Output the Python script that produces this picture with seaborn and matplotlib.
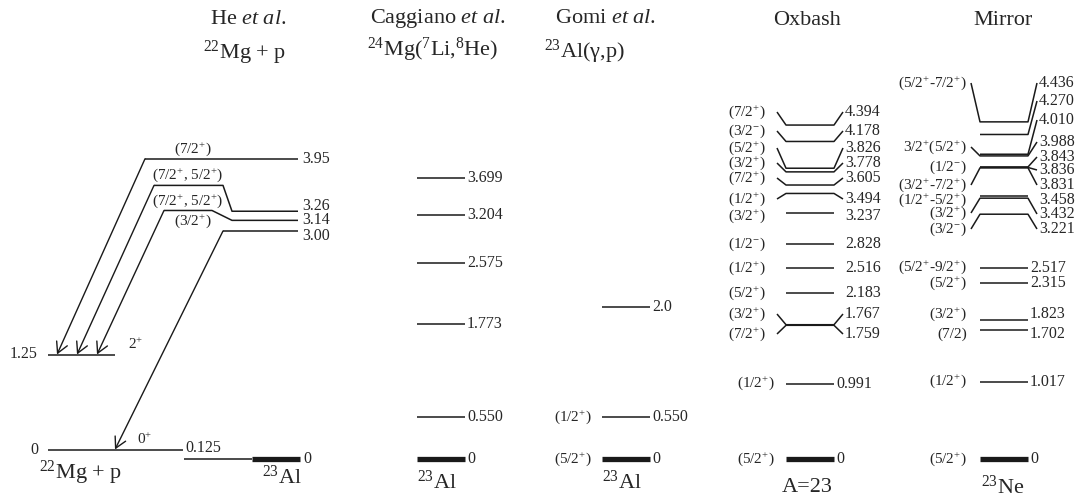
import pandas as pd
import matplotlib.pyplot as plt
import seaborn as sns

sns.set_theme(style="white")
plt.rcParams['font.family'] = ['Liberation Serif', 'DejaVu Serif']
plt.rcParams['mathtext.fontset'] = 'custom'
plt.rcParams['mathtext.rm'] = 'Liberation Serif'
plt.rcParams['mathtext.it'] = 'Liberation Serif:italic'
plt.rcParams['lines.solid_capstyle'] = 'butt'

P = '$^{+}$'
M = '$^{-}$'

# He et al., 22Mg + p
he_e = [3.95, 3.26, 3.14, 3.00]
he_val = ['3.95', '3.26', '3.14', '3.00']
he_jp = ['(7/2' + P + ')', '(7/2' + P + ', 5/2' + P + ')', '(7/2' + P + ', 5/2' + P + ')', '(3/2' + P + ')']
mg_e = [0.0, 1.25]          # 22Mg levels above the p threshold
mg_val = ['0', '1.25']
mg_jp = ['0' + P, '2' + P]
s_p = 0.125                 # proton threshold in 23Al

# Caggiano et al.
cag_e = [3.699, 3.204, 2.575, 1.773, 0.550, 0.0]
cag_val = ['3.699', '3.204', '2.575', '1.773', '0.550', '0']

# Gomi et al.
gomi_e = [2.0, 0.550, 0.0]
gomi_val = ['2.0', '0.550', '0']
gomi_jp = ['', '(1/2' + P + ')', '(5/2' + P + ')']

# Oxbash (A=23)
ox_e = [4.394, 4.178, 3.826, 3.778, 3.605, 3.494, 3.237, 2.828, 2.516, 2.183, 1.767, 1.759, 0.991, 0.0]
ox_val = ['4.394', '4.178', '3.826', '3.778', '3.605', '3.494', '3.237', '2.828', '2.516', '2.183',
          '1.767', '1.759', '0.991', '0']
ox_jp = ['(7/2' + P + ')', '(3/2' + M + ')', '(5/2' + P + ')', '(3/2' + P + ')', '(7/2' + P + ')',
         '(1/2' + P + ')', '(3/2' + P + ')', '(1/2' + M + ')', '(1/2' + P + ')', '(5/2' + P + ')',
         '(3/2' + P + ')', '(7/2' + P + ')', '(1/2' + P + ')', '(5/2' + P + ')']

# Mirror, 23Ne
mir_e = [4.436, 4.270, 4.010, 3.988, 3.843, 3.836, 3.831, 3.458, 3.432, 3.221, 2.517, 2.315, 1.823, 1.702, 1.017, 0.0]
mir_val = ['4.436', '4.270', '4.010', '3.988', '3.843', '3.836', '3.831', '3.458', '3.432', '3.221',
           '2.517', '2.315', '1.823', '1.702', '1.017', '0']
mir_jp = ['(5/2' + P + '-7/2' + P + ')', '', '', '3/2' + P + '(5/2' + P + ')', '', '(1/2' + M + ')',
          '(3/2' + P + '-7/2' + P + ')', '(1/2' + P + '-5/2' + P + ')', '(3/2' + P + ')', '(3/2' + M + ')',
          '(5/2' + P + '-9/2' + P + ')', '(5/2' + P + ')', '(3/2' + P + ')', '(7/2)', '(1/2' + P + ')',
          '(5/2' + P + ')']


def py(row):
    # picture row -> MeV, only used to place text and spread labels
    return (459 - row) / 76


def spread(rs):
    return [py(r) if r else None for r in rs]


# where crowded labels are pushed to (layout)
ox_lab = spread([112, 131, 148, 163, 178, 199, 0, 0, 0, 0, 314, 334, 0, 0])
ox_t = spread([0, 0, 0, 0, 0, 0, 216, 0, 0, 0, 0, 0, 0, 0])
mir_r = spread([83, 101, 120, 142, 157, 170, 185, 0, 214, 229, 0, 0, 0, 0, 0, 0])
mir_l = spread([83, 0, 0, 147, 0, 0, 185, 0, 213, 229, 0, 0, 0, 0, 0, 0])
mir_t = spread([0, 0, 0, 0, 0, 0, 0, 200, 0, 0, 0, 0, 314, 334, 0, 0])
he_up = [3.95, 3.60, 3.27, 3.00]
he_lab = [3.95, py(206), 3.14, py(236)]

rows = []


def poly(xs, es, w='thin'):
    k = len(set(r['seg'] for r in rows))
    for x, e in zip(xs, es):
        rows.append({'seg': k, 'x': x, 'E': e, 'w': w})


fig = plt.figure(figsize=(10.81, 4.99), dpi=100)
ax = fig.add_axes([0, 0, 1, 1])
FS = 11.5
JS = 11


def levels(x0, x1, es, vals, jps, lab_r, lab_l, rx, lx, far, txt=None, dx=9):
    txt = txt or [None] * len(es)
    for i, e in enumerate(es):
        xs, ys = [x0, x1], [e, e]
        if lab_l[i] is not None:
            xs.insert(0, x0 - dx)
            ys.insert(0, lab_l[i])
        if lab_r[i] is not None:
            xs.append(x1 + dx)
            ys.append(lab_r[i])
        poly(xs, ys, 'thick' if e == 0 else 'thin')
        big = e > far or lab_r[i] is not None or lab_l[i] is not None
        et = e if txt[i] is None else txt[i]
        er = et if lab_r[i] is None else lab_r[i]
        el = et if lab_l[i] is None else lab_l[i]
        if vals[i]:
            ax.text(rx[0] if big else rx[1], er, vals[i], ha='left', va='center', fontsize=FS)
        if jps and jps[i]:
            ax.text(lx[0] if big else lx[1], el, jps[i], ha='right', va='center', fontsize=JS)


none = [None] * 20
levels(417, 465, cag_e, cag_val, None, none, none, (467, 467), (0, 0), 99)
levels(602, 650, gomi_e, gomi_val, gomi_jp, none, none, (652, 652), (592, 592), 99)
levels(786, 834, ox_e, ox_val, ox_jp, ox_lab, ox_lab, (845, 836), (766, 775), 2.0, ox_t)
levels(980, 1028, mir_e, mir_val, mir_jp, mir_r, mir_l, (1039, 1030), (967, 967), 3.0, mir_t)

# He et al. column: 23Al levels with gamma arrows into 22Mg + p
he_x0 = [145, 154, 164, 223]
he_bend = [None, 223, 212, None]
he_tip = [57, 77, 97, 115]
he_cx = [193, 188, 188, 193]
for i, e in enumerate(he_e):
    if he_bend[i] is None:
        poly([he_x0[i], 298], [e, e])
    else:
        poly([he_x0[i], he_bend[i], 232, 298], [he_up[i], he_up[i], e, e])
    ax.text(302, he_lab[i], he_val[i], ha='left', va='center', fontsize=FS)
    ax.annotate(he_jp[i], (he_cx[i], he_up[i]), xytext=(0, 7), textcoords='offset points',
                ha='center', va='center', fontsize=JS)
    end = s_p + (mg_e[1] if i < 3 else mg_e[0])
    ax.annotate('', xy=(he_tip[i], end), xytext=(he_x0[i], he_up[i]),
                arrowprops=dict(arrowstyle='->,head_length=0.55,head_width=0.3', lw=1.0,
                                color='k', shrinkA=0, shrinkB=0, mutation_scale=14))

mg_x1 = [183, 115]
mg_jx = [137, 128]
for i, e in enumerate(mg_e):
    poly([48, mg_x1[i]], [s_p + e, s_p + e])
    ax.text(38, s_p + e, mg_val[i], ha='right', va='center', fontsize=FS)
    ax.annotate(mg_jp[i], (mg_jx[i], s_p + e), xytext=(0, 7), textcoords='offset points',
                ha='left', va='center', fontsize=JS)
ax.text(185, s_p + 0.02, '0.125', ha='left', va='center', fontsize=FS)
poly([184, 252], [0, 0])
poly([252, 300], [0, 0], 'thick')
ax.text(303, 0, '0', ha='left', va='center', fontsize=FS)

df = pd.DataFrame(rows)
sns.lineplot(data=df, x='x', y='E', units='seg', estimator=None, sort=False, size='w',
             sizes={'thin': 1.1, 'thick': 3.8}, color='k', legend=False, ax=ax)

# headers and nucleus names
TS = 16
heads = [(248, 19, 'He $\\mathit{et\\ al}$.'), (245, 53, '$^{22}$Mg + p'),
         (438, 18, 'Caggiano $\\mathit{et\\ al}$.'), (433, 50, '$^{24}$Mg($^{7}$Li,$^{8}$He)'),
         (606, 18, 'Gomi $\\mathit{et\\ al}$.'), (584, 52, '$^{23}$Al(γ,p)'),
         (807, 20, 'Oxbash'), (1003, 20, 'Mirror'),
         (81, 473, '$^{22}$Mg + p'), (282, 477, '$^{23}$Al'), (437, 482, '$^{23}$Al'),
         (622, 482, '$^{23}$Al'), (807, 487, 'A=23'), (1003, 487, '$^{23}$Ne')]
for x, r, s in heads:
    ax.text(x, py(r), s, ha='center', va='center', fontsize=TS)

ax.set_xlim(0, 1081)
ax.set_ylim(py(499), py(0))
ax.axis('off')
fig.savefig('out.png', dpi=100)
